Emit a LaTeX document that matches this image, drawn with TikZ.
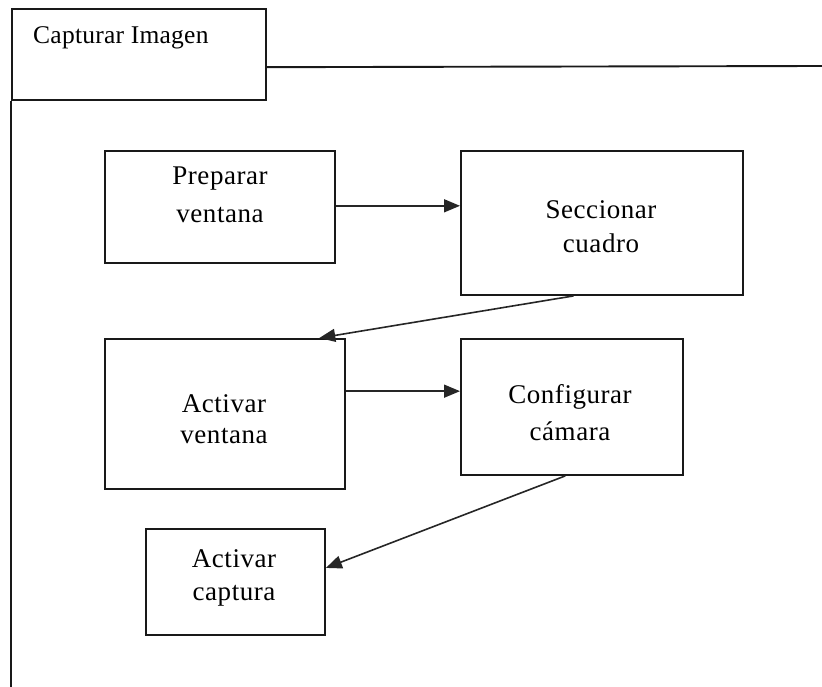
\documentclass[tikz,border=0pt]{standalone}
\usepackage{fontspec}
\setmainfont{Liberation Serif}[LetterSpace=2]
\usetikzlibrary{arrows.meta,calc}

\begin{document}
\begin{tikzpicture}[x=1pt,y=-1pt,
  frame/.style={draw=black!90,line width=1.9pt},
  stepbox/.style={draw=black!90,line width=1.9pt,rectangle,inner sep=0pt,anchor=north west},
  lbl/.style={align=center,anchor=base,inner sep=0pt,text=black},
  skip/.style={font=\fontsize{27}{#1}\selectfont},
  flow/.style={draw=black!85,line width=1.6pt,
               -{Triangle[length=16pt,width=13pt]}}]
  \useasboundingbox (0,0) rectangle (822,687);

  % activity frame with its name tab
  \node[stepbox,minimum width=254pt,minimum height=91pt] (tab) at (11,8) {};
  \node[anchor=base west,inner sep=0pt,text=black,
        font=\addfontfeature{LetterSpace=1}\fontsize{25.5}{30}\selectfont] (title) at (33,44) {Capturar Imagen};
  \coordinate (tabr) at ($(tab.north east)!0.637!(tab.south east)$);
  \coordinate (frr) at (822,66);
  \coordinate (frb) at (11,687);
  \draw[frame] (tabr) -- (frr);
  \draw[frame] (tab.south west) -- (frb);

  % steps
  \node[stepbox,minimum width=230pt,minimum height=112pt] (b1) at (104,150) {};
  \node[stepbox,minimum width=282pt,minimum height=144pt] (b2) at (460,150) {};
  \node[stepbox,minimum width=240pt,minimum height=150pt] (b3) at (104,338) {};
  \node[stepbox,minimum width=222pt,minimum height=136pt] (b4) at (460,338) {};
  \node[stepbox,minimum width=179pt,minimum height=106pt] (b5) at (145,528) {};

  % step names (anchored at the baseline of the second line)
  \node[lbl,skip=39] (t1) at (220,223) {Preparar\\ventana};
  \node[lbl,skip=34] (t2) at (601,253) {Seccionar\\cuadro};
  \node[lbl,skip=31] (t3) at (224,443) {Activar\\ventana};
  \node[lbl,skip=37] (t4) at (570,440) {Configurar\\cámara};
  \node[lbl,skip=33] (t5) at (234,600) {Activar\\captura};

  % connectors
  \coordinate (a1s) at ($(b1.north east)!0.49!(b1.south east)$);
  \draw[flow] (a1s) -- (a1s -| b2.west);

  \coordinate (a2s) at ($(b2.south west)!0.40!(b2.south east)$);
  \coordinate (a2e) at ($(b3.north west)!0.89!(b3.north east)$);
  \draw[flow] (a2s) -- (a2e);

  \coordinate (a3s) at ($(b3.north east)!0.35!(b3.south east)$);
  \draw[flow] (a3s) -- (a3s -| b4.west);

  \coordinate (a4s) at ($(b4.south west)!0.47!(b4.south east)$);
  \coordinate (a4e) at ($(b5.north east)!0.37!(b5.south east)$);
  \draw[flow] (a4s) -- (a4e);
\end{tikzpicture}
\end{document}
